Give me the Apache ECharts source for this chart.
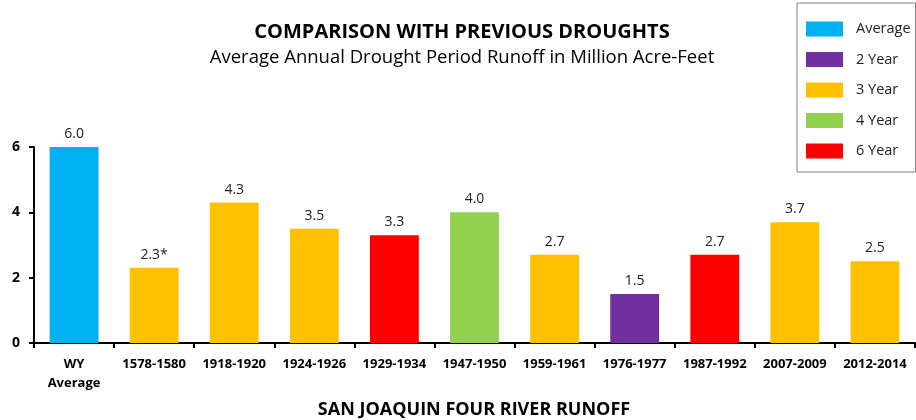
<!DOCTYPE html>
<html><head><meta charset="utf-8">
<script src="https://cdn.jsdelivr.net/npm/echarts@6/dist/echarts.min.js"></script>
<style>html,body{margin:0;padding:0;background:#fff}#c{width:916px;height:420px}</style>
</head><body><div id="c"></div>
<script>
const categories = ['WY\nAverage','1578-1580','1918-1920','1924-1926','1929-1934','1947-1950','1959-1961','1976-1977','1987-1992','2007-2009','2012-2014'];
const values = [6.0, 2.3, 4.3, 3.5, 3.3, 4.0, 2.7, 1.5, 2.7, 3.7, 2.5];
const groups = ['Average','3 Year','3 Year','3 Year','6 Year','4 Year','3 Year','2 Year','6 Year','3 Year','3 Year'];
const labelSuffix = ['', '*', '', '', '', '', '', '', '', '', ''];
const groupNames = ['Average','2 Year','3 Year','4 Year','6 Year'];
const groupColors = ['#00B0F0','#7030A0','#FFC000','#92D050','#FF0000'];
const yTicks = [0, 2, 4, 6];

const FONT = "'Open Sans',sans-serif";
const chart = echarts.init(document.getElementById('c'));
const series = groupNames.map((g, gi) => ({
  name: g, type: 'bar', stack: 'all', barWidth: '61%',
  itemStyle: {color: groupColors[gi]},
  data: values.map((v, i) => groups[i] === g ? v : '-'),
  label: {show: true, position: 'top', distance: 6, color: '#222', fontSize: 14, fontFamily: FONT,
    formatter: p => values[p.dataIndex].toFixed(1) + labelSuffix[p.dataIndex]}
}));
chart.setOption({
  animation: false,
  title: [
    {text: 'COMPARISON WITH PREVIOUS DROUGHTS', left: 457, top: 17, textAlign: 'center',
     textStyle: {fontSize: 20, fontWeight: 'bold', color: '#000', fontFamily: FONT}},
    {text: 'Average Annual Drought Period Runoff in Million Acre-Feet', left: 457, top: 43, textAlign: 'center',
     textStyle: {fontSize: 18.5, fontWeight: 'normal', color: '#000', fontFamily: FONT}},
    {text: 'SAN JOAQUIN FOUR RIVER RUNOFF', left: 469, top: 396, textAlign: 'center',
     textStyle: {fontSize: 18, fontWeight: 'bold', color: '#000', fontFamily: FONT}}
  ],
  legend: {
    orient: 'vertical', left: 797, top: 3, data: groupNames,
    itemWidth: 37, itemHeight: 15, itemGap: 12.5,
    padding: [17, 5, 12, 9], borderColor: '#808080', borderWidth: 1,
    icon: 'rect',
    textStyle: {fontSize: 14.5, lineHeight: 18, color: '#222', fontFamily: FONT, padding: [0, 0, 0, 8]}
  },
  grid: {left: 34, right: 1, top: 147, bottom: 77},
  xAxis: {
    type: 'category', data: categories,
    axisLine: {lineStyle: {color: '#000', width: 2}},
    axisTick: {show: true, length: 5, lineStyle: {color: '#000', width: 2}},
    axisLabel: {color: '#000', fontWeight: 'bold', fontSize: 13, margin: 12, lineHeight: 19, fontFamily: FONT, interval: 0}
  },
  yAxis: {
    type: 'value', min: 0, max: 6, interval: 2,
    axisLine: {show: true, lineStyle: {color: '#000', width: 2}},
    axisTick: {show: true, length: 5, lineStyle: {color: '#000', width: 2}},
    splitLine: {show: false},
    axisLabel: {color: '#000', fontWeight: 'bold', fontSize: 14, margin: 14, fontFamily: FONT,
      formatter: v => yTicks.includes(v) ? String(v) : ''}
  },
  series: series
});
</script></body></html>
